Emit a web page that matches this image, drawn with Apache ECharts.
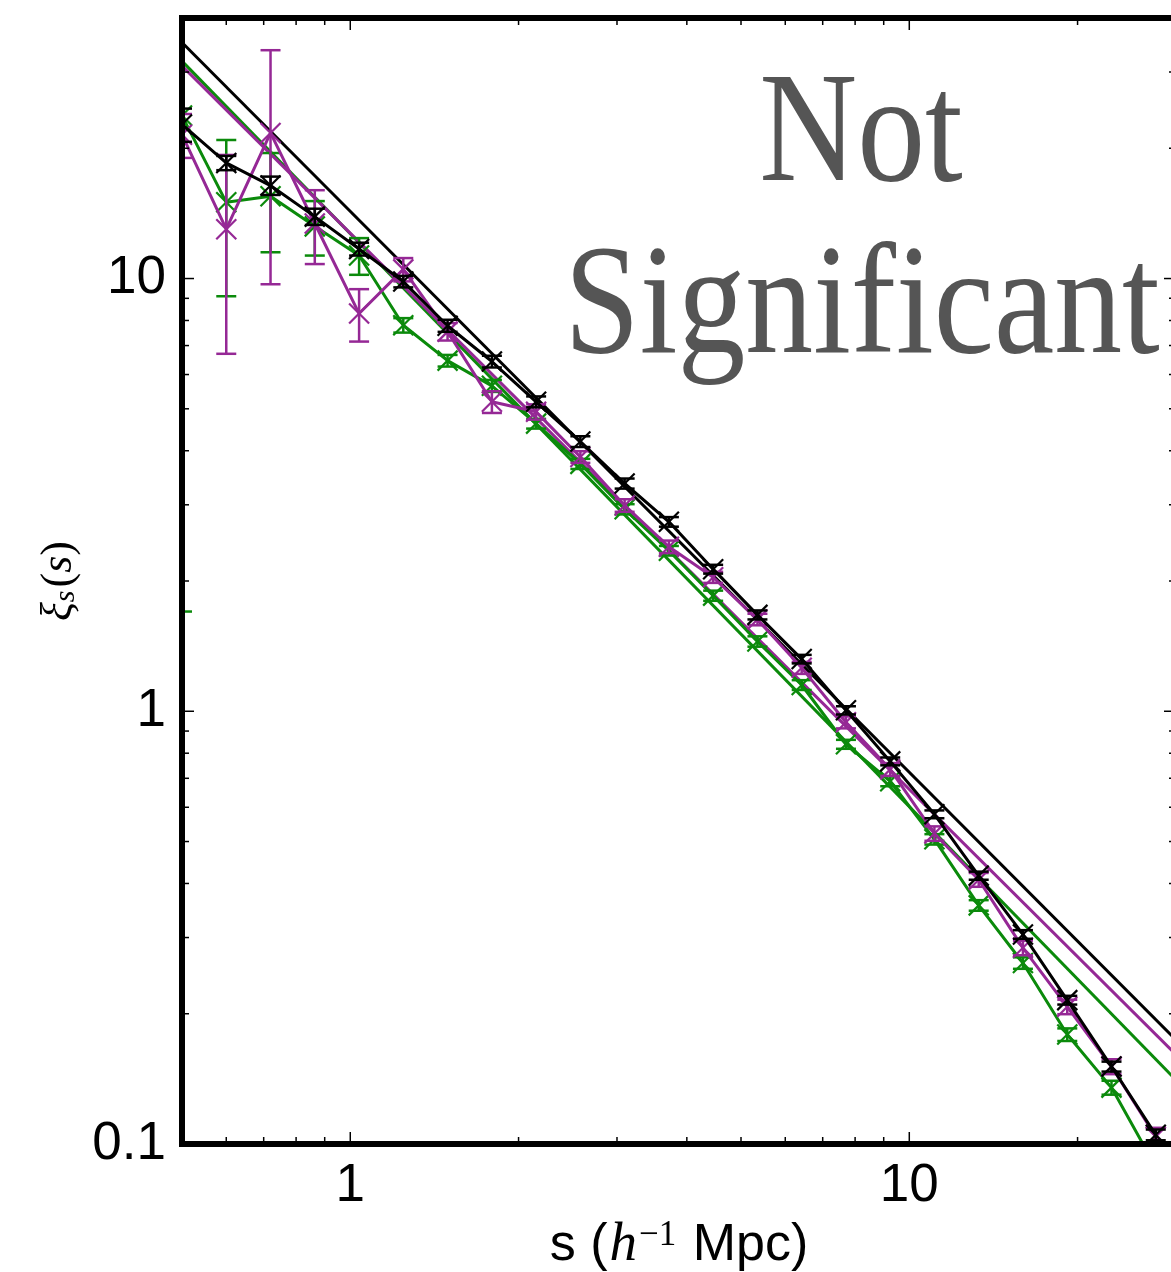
<!DOCTYPE html>
<html>
<head>
<meta charset="utf-8">
<script src="https://cdn.jsdelivr.net/npm/echarts@6/dist/echarts.min.js"></script>
<style>
html, body { margin: 0; padding: 0; background: #fff; }
#main { width: 1171px; height: 1272px; }
</style>
</head>
<body>
<div id="main"></div>
<script>
// separation bins (h^-1 Mpc)
var sepBins = [0.5, 0.6, 0.72, 0.864, 1.037, 1.244, 1.493, 1.792, 2.150, 2.580, 3.096, 3.715,
    4.458, 5.350, 6.420, 7.704, 9.245, 11.09, 13.31, 15.97, 19.17, 23.00, 27.60];

// xi_s(s) per sample + errors
var xiBlack  = [22.7, 18.5, 16.4, 13.9, 11.7, 9.84, 7.78, 6.43, 5.19, 4.20, 3.36, 2.74,
    2.13, 1.67, 1.32, 1.005, 0.766, 0.578, 0.417, 0.305, 0.215, 0.151, 0.105];
var errBlack = [2.0, 0.7, 0.8, 0.6, 0.4, 0.3, 0.25, 0.2, 0.15, 0.12, 0.09, 0.07,
    0.05, 0.04, 0.03, 0.022, 0.016, 0.012, 0.009, 0.007, 0.005, 0.004, 0.003];

var xiPurple  = [21.5, 13.0, 21.7, 13.4, 8.3, 10.5, 7.54, 5.19, 4.92, 3.87, 2.99, 2.40,
    2.04, 1.63, 1.26, 0.943, 0.734, 0.522, 0.408, 0.284, 0.2075, 0.151, 0.104];
var errPurple = [2.5, 6.3, 12.0, 2.6, 1.15, 0.65, 0.35, 0.3, 0.2, 0.12, 0.1, 0.08,
    0.06, 0.05, 0.04, 0.03, 0.025, 0.02, 0.015, 0.011, 0.008, 0.006, 0.005];

var xiGreen  = [23.8, 15.0, 15.5, 13.2, 11.3, 7.8, 6.46, 5.65, 4.62, 3.73, 2.93, 2.35,
    1.85, 1.45, 1.15, 0.839, 0.689, 0.506, 0.356, 0.262, 0.179, 0.135, 0.0885];
var errGreen = [22.1, 5.9, 4.0, 1.9, 1.1, 0.3, 0.2, 0.18, 0.12, 0.1, 0.08, 0.06,
    0.05, 0.04, 0.03, 0.02, 0.018, 0.014, 0.01, 0.008, 0.006, 0.005, 0.004];

// power-law fits, end points
var fitS      = [0.5, 30];
var fitBlack  = [35.1, 0.174];
var fitPurple = [31.0, 0.161];
var fitGreen  = [31.8, 0.1406];

// ticks
var xTickLabels = [1, 10];
var xMinorTicks = [0.6, 0.7, 0.8, 0.9, 2, 3, 4, 5, 6, 7, 8, 9, 20];
var yTickLabels = [0.1, 1, 10];
var yMinorTicks = [0.2, 0.3, 0.4, 0.5, 0.6, 0.7, 0.8, 0.9, 2, 3, 4, 5, 6, 7, 8, 9, 20, 30];

var BLACK = '#000000', PURPLE = '#952895', GREEN = '#0b8a0b';

var myChart = echarts.init(document.getElementById('main'));

function pairs(xs, ys) {
    return xs.map(function (x, i) { return [x, ys[i]]; });
}
function triples(xs, ys, es) {
    return xs.map(function (x, i) { return [x, ys[i], es[i]]; });
}

// error bar + 'x' marker
function errRender(color) {
    return function (params, api) {
        var x = api.value(0), y = api.value(1), e = api.value(2);
        var c = api.coord([x, y]);
        var hi = api.coord([x, y + e]);
        var lo = (y - e > 0) ? api.coord([x, y - e]) : [c[0], c[1] + 2000];
        var cap = 10, m = 10;
        var st = { stroke: color, lineWidth: 2.5, fill: null };
        var ms = { stroke: color, lineWidth: 2.2, fill: null };
        return {
            type: 'group',
            children: [
                { type: 'line', shape: { x1: c[0], y1: hi[1], x2: c[0], y2: lo[1] }, style: st },
                { type: 'line', shape: { x1: c[0] - cap, y1: hi[1], x2: c[0] + cap, y2: hi[1] }, style: st },
                { type: 'line', shape: { x1: c[0] - cap, y1: lo[1], x2: c[0] + cap, y2: lo[1] }, style: st },
                { type: 'line', shape: { x1: c[0] - m, y1: c[1] - m, x2: c[0] + m, y2: c[1] + m }, style: ms },
                { type: 'line', shape: { x1: c[0] - m, y1: c[1] + m, x2: c[0] + m, y2: c[1] - m }, style: ms }
            ]
        };
    };
}

// tick marks on all 4 sides, pointing inward
var tickData = [];
xTickLabels.forEach(function (v) { tickData.push([v, 1, 0, 1]); });
xMinorTicks.forEach(function (v) { tickData.push([v, 1, 0, 0]); });
yTickLabels.forEach(function (v) { tickData.push([1, v, 1, 1]); });
yMinorTicks.forEach(function (v) { tickData.push([1, v, 1, 0]); });

function tickRender(params, api) {
    var cs = params.coordSys;
    var isY = api.value(2) === 1;
    var len = api.value(3) === 1 ? 12 : 7;
    var p = api.coord([api.value(0), api.value(1)]);
    var st = { stroke: '#000', lineWidth: 1.5 };
    if (!isY) {
        var yb = cs.y + cs.height, yt = cs.y;
        return { type: 'group', children: [
            { type: 'line', shape: { x1: p[0], y1: yb, x2: p[0], y2: yb - len }, style: st },
            { type: 'line', shape: { x1: p[0], y1: yt, x2: p[0], y2: yt + len }, style: st }
        ] };
    }
    var xl = cs.x, xr = cs.x + cs.width;
    return { type: 'group', children: [
        { type: 'line', shape: { x1: xl, y1: p[1], x2: xl + len, y2: p[1] }, style: st },
        { type: 'line', shape: { x1: xr, y1: p[1], x2: xr - len, y2: p[1] }, style: st }
    ] };
}

function onlyLabels(list) {
    return function (v) {
        for (var i = 0; i < list.length; i++) {
            if (Math.abs(v - list[i]) < 1e-6 * list[i]) return String(list[i]);
        }
        return '';
    };
}

function lineSeries(name, data, color, z) {
    return {
        name: name, type: 'line', data: data, symbol: 'none', z: z,
        lineStyle: { color: color, width: 3 }, clip: true
    };
}
function errSeries(name, data, color, z) {
    return {
        name: name, type: 'custom', data: data, renderItem: errRender(color),
        clip: true, z: z, encode: { x: 0, y: 1 }
    };
}

var option = {
    animation: false,
    backgroundColor: '#fff',
    grid: {
        left: 182, top: 18, right: -5, bottom: 128,
        containLabel: false, outerBoundsMode: 'none',
        show: true, z: 10,
        borderWidth: 6, borderColor: '#000',
        backgroundColor: 'transparent'
    },
    xAxis: {
        type: 'log', logBase: 10, min: 0.5, max: 30,
        axisLine: { show: false }, axisTick: { show: false }, splitLine: { show: false },
        axisLabel: {
            formatter: onlyLabels(xTickLabels), margin: 16,
            fontFamily: 'Liberation Sans', fontSize: 53, color: '#000'
        },
        name: '{a|s (}{i|h}{s|\u22121}{a| Mpc)}',
        nameLocation: 'middle', nameGap: 72,
        nameTextStyle: {
            rich: {
                a: { fontFamily: 'Liberation Sans', fontSize: 52, color: '#000' },
                i: { fontFamily: 'Liberation Serif', fontStyle: 'italic', fontSize: 55, color: '#000', padding: [0, 0, 0, 2] },
                s: { fontFamily: 'Liberation Serif', fontSize: 35, color: '#000', verticalAlign: 'top', padding: [0, 2, 0, 2] }
            }
        }
    },
    yAxis: {
        type: 'log', logBase: 10, min: 0.1, max: 40,
        axisLine: { show: false }, axisTick: { show: false }, splitLine: { show: false },
        axisLabel: {
            formatter: onlyLabels(yTickLabels), margin: 16,
            fontFamily: 'Liberation Sans', fontSize: 53, color: '#000'
        },
        name: '{i|\u03BE}{s|s}{p|(}{i|s}{p|)}',
        nameLocation: 'middle', nameGap: 100,
        nameTextStyle: {
            rich: {
                i: { fontFamily: 'Liberation Serif', fontStyle: 'italic', fontSize: 44, color: '#000' },
                s: { fontFamily: 'Liberation Serif', fontStyle: 'italic', fontSize: 30, color: '#000', verticalAlign: 'bottom', padding: [0, 3, 0, 0] },
                p: { fontFamily: 'Liberation Serif', fontSize: 44, color: '#000' }
            }
        }
    },
    graphic: [
        {
            type: 'text', x: 861, y: 139, scaleX: 0.87, z: 1,
            style: { text: 'Not', fontFamily: 'Liberation Serif', fontSize: 156, fill: '#555555', align: 'center', verticalAlign: 'middle' }
        },
        {
            type: 'text', x: 862, y: 311, scaleX: 0.87, z: 1,
            style: { text: 'Significant', fontFamily: 'Liberation Serif', fontSize: 156, fill: '#555555', align: 'center', verticalAlign: 'middle' }
        }
    ],
    series: [
        lineSeries('fit green', pairs(fitS, fitGreen), GREEN, 2),
        lineSeries('fit purple', pairs(fitS, fitPurple), PURPLE, 2),
        lineSeries('fit black', pairs(fitS, fitBlack), BLACK, 2),
        lineSeries('green', pairs(sepBins, xiGreen), GREEN, 3),
        errSeries('green err', triples(sepBins, xiGreen, errGreen), GREEN, 3),
        lineSeries('purple', pairs(sepBins, xiPurple), PURPLE, 4),
        errSeries('purple err', triples(sepBins, xiPurple, errPurple), PURPLE, 4),
        lineSeries('black', pairs(sepBins, xiBlack), BLACK, 5),
        errSeries('black err', triples(sepBins, xiBlack, errBlack), BLACK, 5),
        {
            name: 'ticks', type: 'custom', data: tickData, renderItem: tickRender,
            clip: false, z: 11, encode: { x: 0, y: 1 }, silent: true
        }
    ]
};

myChart.setOption(option);
</script>
</body>
</html>
